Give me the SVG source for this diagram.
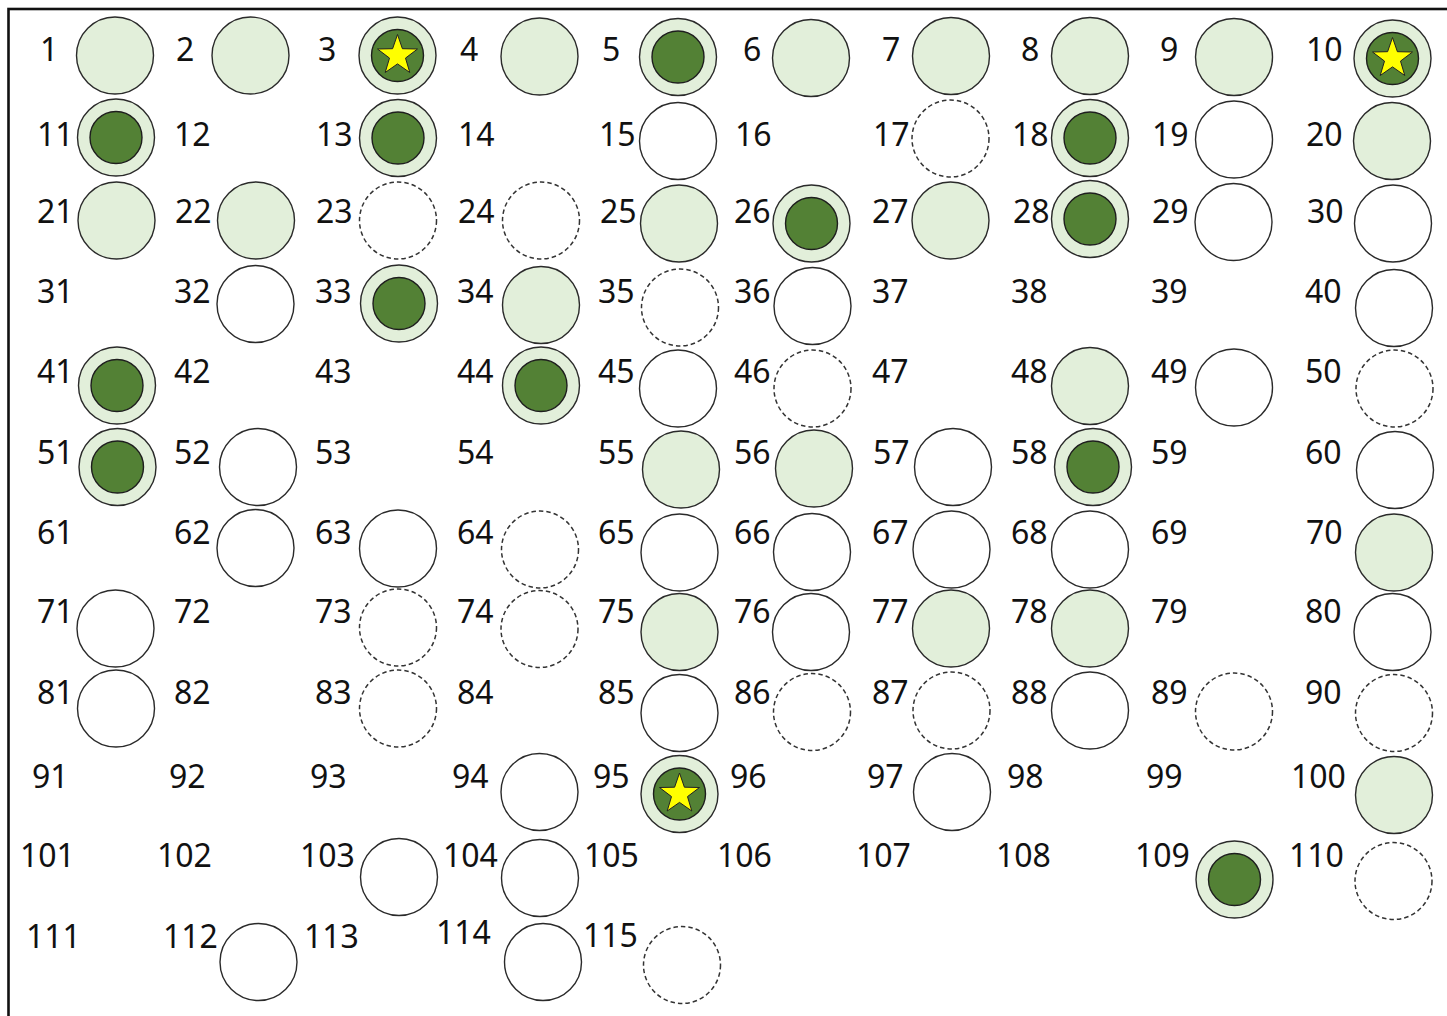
<svg xmlns="http://www.w3.org/2000/svg" xmlns:xlink="http://www.w3.org/1999/xlink" width="1447" height="1016" viewBox="0 0 1447 1016">
<style>
text{font-family:"Noto Sans","Open Sans","DejaVu Sans",sans-serif;font-size:32px;fill:#111}
.l{fill:#e2efda;stroke:#2a2a2a;stroke-width:1.4}
.w{fill:#fff;stroke:#2a2a2a;stroke-width:1.4}
.d{fill:#fff;stroke:#333;stroke-width:1.5;stroke-dasharray:4.5 3}
.i{fill:#538135;stroke:#1e1e1e;stroke-width:1.4}
.s{fill:#ffff00;stroke:#222;stroke-width:1}
</style>
<defs>
<g id="dbl"><circle r="38.5" class="l"/><circle r="26" class="i"/></g>
<g id="dstar"><circle r="38.5" class="l"/><circle r="26" class="i"/><polygon class="s" points="0,-21 4.9,-6.8 20,-6.5 8,2.6 12.3,17 0,8.4 -12.3,17 -8,2.6 -20,-6.5 -4.9,-6.8"/></g>
</defs>
<rect x="8.5" y="9" width="1500" height="1100" fill="#fff" stroke="#111" stroke-width="2.6"/>
<g id="connectors"/>
<g id="n1"><text x="40" y="61">1</text><circle cx="115" cy="55.5" r="38.5" class="l"/></g>
<g id="n2"><text x="176" y="61">2</text><circle cx="250.5" cy="55.5" r="38.5" class="l"/></g>
<g id="n3"><text x="318" y="61">3</text><use xlink:href="#dstar" x="397.5" y="55.5"/></g>
<g id="n4"><text x="460" y="61">4</text><circle cx="539.5" cy="56.5" r="38.5" class="l"/></g>
<g id="n5"><text x="602" y="61">5</text><use xlink:href="#dbl" x="678" y="57"/></g>
<g id="n6"><text x="743" y="61">6</text><circle cx="811" cy="58" r="38.5" class="l"/></g>
<g id="n7"><text x="882" y="61">7</text><circle cx="951" cy="56" r="38.5" class="l"/></g>
<g id="n8"><text x="1021" y="61">8</text><circle cx="1090" cy="56" r="38.5" class="l"/></g>
<g id="n9"><text x="1160" y="61">9</text><circle cx="1234" cy="57" r="38.5" class="l"/></g>
<g id="n10"><text x="1306" y="61">10</text><use xlink:href="#dstar" x="1392.5" y="58.5"/></g>
<g id="n11"><text x="37" y="146">11</text><use xlink:href="#dbl" x="116" y="137.5"/></g>
<g id="n12"><text x="174" y="146">12</text></g>
<g id="n13"><text x="316" y="146">13</text><use xlink:href="#dbl" x="398" y="138"/></g>
<g id="n14"><text x="458" y="146">14</text></g>
<g id="n15"><text x="599" y="146">15</text><circle cx="678" cy="141" r="38.5" class="w"/></g>
<g id="n16"><text x="735" y="146">16</text></g>
<g id="n17"><text x="873" y="146">17</text><circle cx="950.5" cy="138.5" r="38.5" class="d"/></g>
<g id="n18"><text x="1012" y="146">18</text><use xlink:href="#dbl" x="1090" y="138"/></g>
<g id="n19"><text x="1152" y="146">19</text><circle cx="1234" cy="139.5" r="38.5" class="w"/></g>
<g id="n20"><text x="1306" y="146">20</text><circle cx="1392" cy="141" r="38.5" class="l"/></g>
<g id="n21"><text x="37" y="223">21</text><circle cx="116.5" cy="220.5" r="38.5" class="l"/></g>
<g id="n22"><text x="175" y="223">22</text><circle cx="256" cy="220.5" r="38.5" class="l"/></g>
<g id="n23"><text x="316" y="223">23</text><circle cx="398" cy="220.5" r="38.5" class="d"/></g>
<g id="n24"><text x="458" y="223">24</text><circle cx="541" cy="220.5" r="38.5" class="d"/></g>
<g id="n25"><text x="600" y="223">25</text><circle cx="679" cy="223.5" r="38.5" class="l"/></g>
<g id="n26"><text x="734" y="223">26</text><use xlink:href="#dbl" x="811.5" y="223.5"/></g>
<g id="n27"><text x="872" y="223">27</text><circle cx="950.5" cy="220.5" r="38.5" class="l"/></g>
<g id="n28"><text x="1013" y="223">28</text><use xlink:href="#dbl" x="1090" y="219"/></g>
<g id="n29"><text x="1152" y="223">29</text><circle cx="1233.5" cy="222" r="38.5" class="w"/></g>
<g id="n30"><text x="1307" y="223">30</text><circle cx="1393" cy="223.5" r="38.5" class="w"/></g>
<g id="n31"><text x="37" y="303">31</text></g>
<g id="n32"><text x="174" y="303">32</text><circle cx="255.5" cy="304" r="38.5" class="w"/></g>
<g id="n33"><text x="315" y="303">33</text><use xlink:href="#dbl" x="399" y="303.5"/></g>
<g id="n34"><text x="457" y="303">34</text><circle cx="541" cy="305" r="38.5" class="l"/></g>
<g id="n35"><text x="598" y="303">35</text><circle cx="680" cy="307.5" r="38.5" class="d"/></g>
<g id="n36"><text x="734" y="303">36</text><circle cx="812.5" cy="306" r="38.5" class="w"/></g>
<g id="n37"><text x="872" y="303">37</text></g>
<g id="n38"><text x="1011" y="303">38</text></g>
<g id="n39"><text x="1151" y="303">39</text></g>
<g id="n40"><text x="1305" y="303">40</text><circle cx="1394" cy="308" r="38.5" class="w"/></g>
<g id="n41"><text x="37" y="383">41</text><use xlink:href="#dbl" x="117" y="385.5"/></g>
<g id="n42"><text x="174" y="383">42</text></g>
<g id="n43"><text x="315" y="383">43</text></g>
<g id="n44"><text x="457" y="383">44</text><use xlink:href="#dbl" x="541" y="385.5"/></g>
<g id="n45"><text x="598" y="383">45</text><circle cx="678" cy="388.5" r="38.5" class="w"/></g>
<g id="n46"><text x="734" y="383">46</text><circle cx="812.5" cy="388.5" r="38.5" class="d"/></g>
<g id="n47"><text x="872" y="383">47</text></g>
<g id="n48"><text x="1011" y="383">48</text><circle cx="1090" cy="386" r="38.5" class="l"/></g>
<g id="n49"><text x="1151" y="383">49</text><circle cx="1234" cy="387.5" r="38.5" class="w"/></g>
<g id="n50"><text x="1305" y="383">50</text><circle cx="1394.5" cy="388.5" r="38.5" class="d"/></g>
<g id="n51"><text x="37" y="464">51</text><use xlink:href="#dbl" x="117.5" y="467"/></g>
<g id="n52"><text x="174" y="464">52</text><circle cx="258" cy="467" r="38.5" class="w"/></g>
<g id="n53"><text x="315" y="464">53</text></g>
<g id="n54"><text x="457" y="464">54</text></g>
<g id="n55"><text x="598" y="464">55</text><circle cx="681" cy="469.5" r="38.5" class="l"/></g>
<g id="n56"><text x="734" y="464">56</text><circle cx="814" cy="468.5" r="38.5" class="l"/></g>
<g id="n57"><text x="873" y="464">57</text><circle cx="953" cy="467" r="38.5" class="w"/></g>
<g id="n58"><text x="1011" y="464">58</text><use xlink:href="#dbl" x="1093" y="467"/></g>
<g id="n59"><text x="1151" y="464">59</text></g>
<g id="n60"><text x="1305" y="464">60</text><circle cx="1395" cy="470" r="38.5" class="w"/></g>
<g id="n61"><text x="37" y="544">61</text></g>
<g id="n62"><text x="174" y="544">62</text><circle cx="255.5" cy="548" r="38.5" class="w"/></g>
<g id="n63"><text x="315" y="544">63</text><circle cx="398" cy="548.5" r="38.5" class="w"/></g>
<g id="n64"><text x="457" y="544">64</text><circle cx="540" cy="549.5" r="38.5" class="d"/></g>
<g id="n65"><text x="598" y="544">65</text><circle cx="679.5" cy="552.5" r="38.5" class="w"/></g>
<g id="n66"><text x="734" y="544">66</text><circle cx="812" cy="552" r="38.5" class="w"/></g>
<g id="n67"><text x="872" y="544">67</text><circle cx="951.5" cy="549.5" r="38.5" class="w"/></g>
<g id="n68"><text x="1011" y="544">68</text><circle cx="1090" cy="549.5" r="38.5" class="w"/></g>
<g id="n69"><text x="1151" y="544">69</text></g>
<g id="n70"><text x="1306" y="544">70</text><circle cx="1394" cy="552.5" r="38.5" class="l"/></g>
<g id="n71"><text x="37" y="623">71</text><circle cx="115.5" cy="628.5" r="38.5" class="w"/></g>
<g id="n72"><text x="174" y="623">72</text></g>
<g id="n73"><text x="315" y="623">73</text><circle cx="398" cy="627.5" r="38.5" class="d"/></g>
<g id="n74"><text x="457" y="623">74</text><circle cx="539.5" cy="629" r="38.5" class="d"/></g>
<g id="n75"><text x="598" y="623">75</text><circle cx="679.5" cy="632" r="38.5" class="l"/></g>
<g id="n76"><text x="734" y="623">76</text><circle cx="811" cy="632" r="38.5" class="w"/></g>
<g id="n77"><text x="872" y="623">77</text><circle cx="951" cy="628.5" r="38.5" class="l"/></g>
<g id="n78"><text x="1011" y="623">78</text><circle cx="1090" cy="628.5" r="38.5" class="l"/></g>
<g id="n79"><text x="1151" y="623">79</text></g>
<g id="n80"><text x="1305" y="623">80</text><circle cx="1392.5" cy="632" r="38.5" class="w"/></g>
<g id="n81"><text x="37" y="704">81</text><circle cx="116" cy="708.5" r="38.5" class="w"/></g>
<g id="n82"><text x="174" y="704">82</text></g>
<g id="n83"><text x="315" y="704">83</text><circle cx="398" cy="708.5" r="38.5" class="d"/></g>
<g id="n84"><text x="457" y="704">84</text></g>
<g id="n85"><text x="598" y="704">85</text><circle cx="679.5" cy="713" r="38.5" class="w"/></g>
<g id="n86"><text x="734" y="704">86</text><circle cx="812" cy="712" r="38.5" class="d"/></g>
<g id="n87"><text x="872" y="704">87</text><circle cx="951.5" cy="710.5" r="38.5" class="d"/></g>
<g id="n88"><text x="1011" y="704">88</text><circle cx="1090" cy="710.5" r="38.5" class="w"/></g>
<g id="n89"><text x="1151" y="704">89</text><circle cx="1234" cy="711.5" r="38.5" class="d"/></g>
<g id="n90"><text x="1305" y="704">90</text><circle cx="1394" cy="713" r="38.5" class="d"/></g>
<g id="n91"><text x="32" y="788">91</text></g>
<g id="n92"><text x="169" y="788">92</text></g>
<g id="n93"><text x="310" y="788">93</text></g>
<g id="n94"><text x="452" y="788">94</text><circle cx="539.5" cy="792" r="38.5" class="w"/></g>
<g id="n95"><text x="593" y="788">95</text><use xlink:href="#dstar" x="679.5" y="794"/></g>
<g id="n96"><text x="730" y="788">96</text></g>
<g id="n97"><text x="867" y="788">97</text><circle cx="952" cy="792" r="38.5" class="w"/></g>
<g id="n98"><text x="1007" y="788">98</text></g>
<g id="n99"><text x="1146" y="788">99</text></g>
<g id="n100"><text x="1291" y="788">100</text><circle cx="1394" cy="795" r="38.5" class="l"/></g>
<g id="n101"><text x="20" y="867">101</text></g>
<g id="n102"><text x="157" y="867">102</text></g>
<g id="n103"><text x="300" y="867">103</text><circle cx="399" cy="877" r="38.5" class="w"/></g>
<g id="n104"><text x="443" y="867">104</text><circle cx="540" cy="878" r="38.5" class="w"/></g>
<g id="n105"><text x="584" y="867">105</text></g>
<g id="n106"><text x="717" y="867">106</text></g>
<g id="n107"><text x="856" y="867">107</text></g>
<g id="n108"><text x="996" y="867">108</text></g>
<g id="n109"><text x="1135" y="867">109</text><use xlink:href="#dbl" x="1234.5" y="879.5"/></g>
<g id="n110"><text x="1289" y="867">110</text><circle cx="1393.5" cy="881" r="38.5" class="d"/></g>
<g id="n111"><text x="26" y="948">111</text></g>
<g id="n112"><text x="163" y="948">112</text><circle cx="258.5" cy="962" r="38.5" class="w"/></g>
<g id="n113"><text x="304" y="948">113</text></g>
<g id="n114"><text x="436" y="944">114</text><circle cx="543" cy="962" r="38.5" class="w"/></g>
<g id="n115"><text x="583" y="947">115</text><circle cx="682" cy="965" r="38.5" class="d"/></g>
</svg>
